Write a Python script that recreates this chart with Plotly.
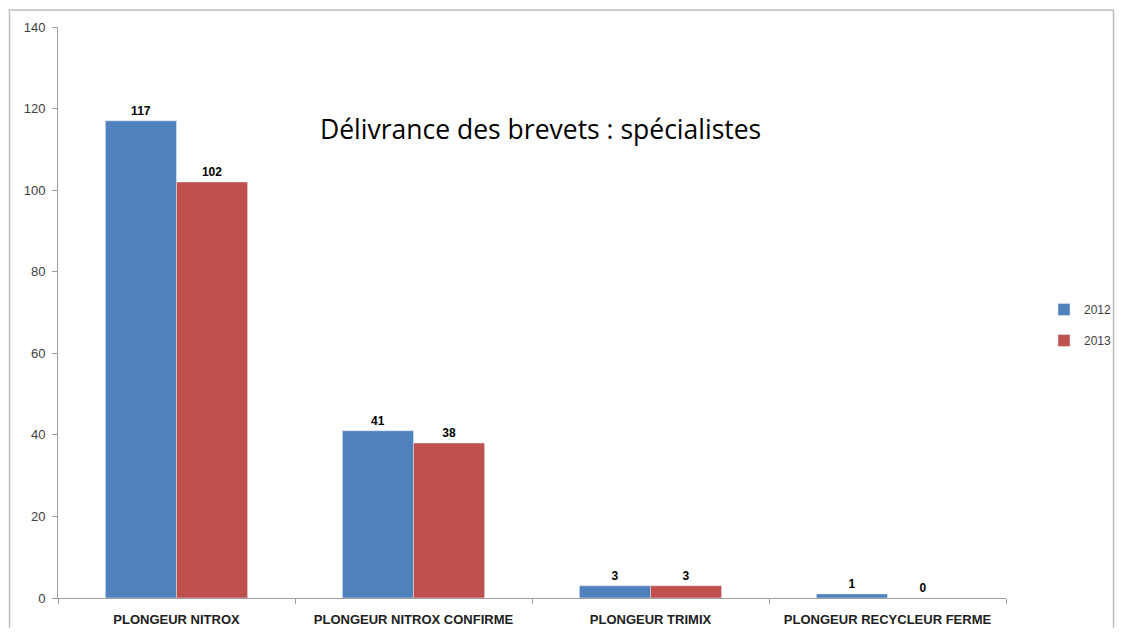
import plotly.graph_objects as go

categories = ["PLONGEUR NITROX", "PLONGEUR NITROX CONFIRME", "PLONGEUR TRIMIX", "PLONGEUR RECYCLEUR FERME"]
values_2012 = [117, 41, 3, 1]
values_2013 = [102, 38, 3, 0]
series_names = ["2012", "2013"]
title_text = "Délivrance des brevets : spécialistes"

W, H = 1107, 620
L, R, T, B = 50, 109, 19, 30
PW, PH = W - L - R, H - T - B

fig = go.Figure()
fig.add_trace(go.Bar(x=categories, y=values_2012, name=series_names[0], marker_color="#4F81BD",
                     legendgroup="a", text=values_2012, textposition="outside", cliponaxis=False,
                     textfont=dict(family="Liberation Sans", size=12, color="#000000")))
fig.add_trace(go.Bar(x=categories, y=values_2013, name=series_names[1], marker_color="#C0504D",
                     legendgroup="b", text=values_2013, textposition="outside", cliponaxis=False,
                     textfont=dict(family="Liberation Sans", size=12, color="#000000")))

fig.update_traces(texttemplate="<b>%{text}</b>")

fig.update_layout(
    width=W, height=H,
    margin=dict(l=L, r=R, t=T, b=B),
    paper_bgcolor="white", plot_bgcolor="white",
    barmode="group", bargap=0.4, bargroupgap=0,
    font=dict(family="Liberation Sans", color="#404040"),
    legend=dict(xref="container", yref="container", x=1036 / W, y=1 - 317 / H,
                xanchor="left", yanchor="middle", traceorder="grouped", tracegroupgap=12,
                bgcolor="rgba(0,0,0,0)",
                font=dict(size=12, color="#404040"), itemwidth=30),
    xaxis=dict(showline=True, linecolor="#A0A0A0", linewidth=1, ticks="outside", automargin=False,
               tickson="boundaries", ticklen=5, tickcolor="#A0A0A0", ticklabelstandoff=9,
               tickfont=dict(size=13, color="#202020", family="Liberation Sans"),
               tickprefix="<b>", ticksuffix="</b>", showgrid=False),
    yaxis=dict(range=[0, 140], dtick=20, showline=True, linecolor="#A0A0A0", linewidth=1,
               ticks="outside", ticklen=5, tickcolor="#A0A0A0", showgrid=False, zeroline=False,
               automargin=False, ticklabelstandoff=4, tickfont=dict(size=13, color="#404040")),
    annotations=[dict(text=title_text, x=(532 - L) / PW, y=(H - B - 121) / PH,
                      xref="paper", yref="paper", showarrow=False, xanchor="center", yanchor="middle",
                      font=dict(size=26.5, family="Open Sans", color="#000000"))],
    shapes=[dict(type="rect", xref="paper", yref="paper",
                 x0=(1.5 - L) / PW, x1=(W - 1.5 - L) / PW, y0=-0.2, y1=(H - B - 2) / PH,
                 line=dict(color="#BDBDBD", width=1.5), layer="below")],
)

fig.write_html("out.html")
